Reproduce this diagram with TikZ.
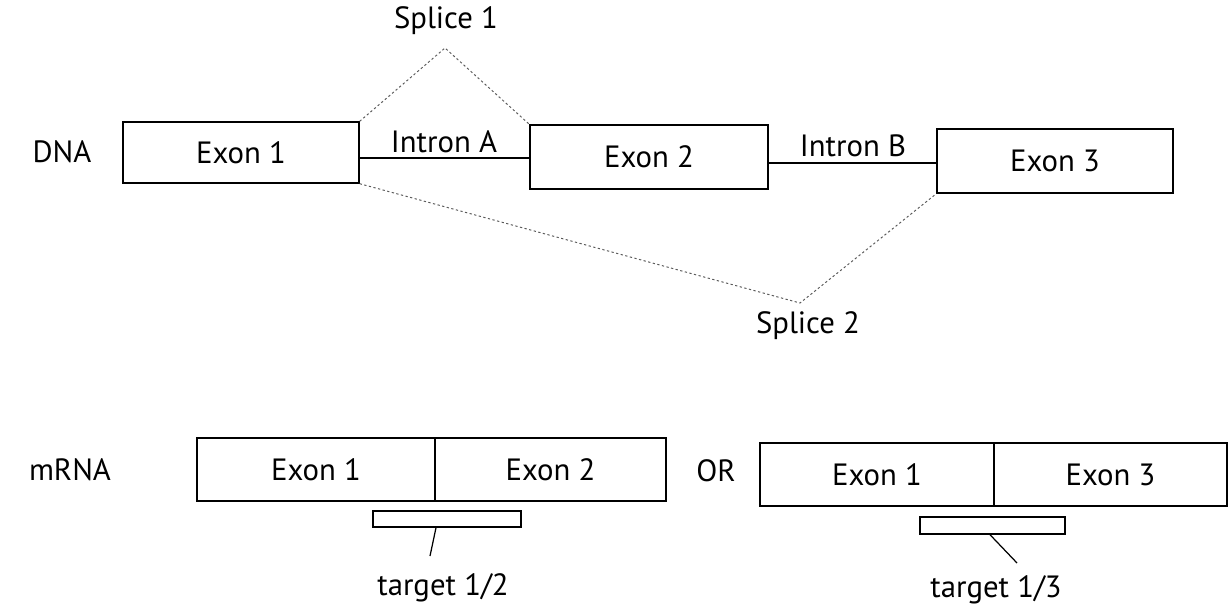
\documentclass[tikz,border=0pt]{standalone}
\usepackage{fontspec}
\setmainfont{PT Sans}
\begin{document}
\begin{tikzpicture}[x=0.02cm,y=-0.02cm,
  font=\fontsize{17.5}{20}\selectfont,
  exonbox/.style={draw=black,line width=0.8pt,rectangle,inner sep=0pt,fill=white},
  intron/.style={line width=1.2pt,black},
  splice/.style={draw=black!65,line width=0.55pt,dash pattern=on 1.3pt off 1.4pt},
  targetbar/.style={draw=black,line width=0.8pt,rectangle,inner sep=0pt},
  leader/.style={draw=black,line width=0.7pt},
  lbl/.style={inner sep=0pt,anchor=center}]
\useasboundingbox (0,0) rectangle (1229,611);

% ---- genomic DNA ----
\node[lbl] (dna) at (62,152) {DNA};
\node[exonbox,minimum width=4.72cm,minimum height=1.22cm] (e1) at (241,152.5) {Exon 1};
\node[exonbox,minimum width=4.76cm,minimum height=1.28cm] (e2) at (649,157) {Exon 2};
\node[exonbox,minimum width=4.72cm,minimum height=1.28cm] (e3) at (1055,161) {Exon 3};

\draw[intron] (e1.east |- 0,158) -- (e2.west |- 0,158);
\draw[intron] (e2.east |- 0,163) -- (e3.west |- 0,163);
\node[lbl] (ia) at (444,142) {Intron A};
\node[lbl] (ib) at (853,146) {Intron B};

% splice paths
\coordinate (s1) at (445,48);
\coordinate (s2) at (800,303);
\node[lbl] (s1l) at (446,21) {Splice 1};
\node[lbl] (s2l) at (808,326) {Splice 2};
\draw[splice] (e1.north east) -- (s1) -- (e2.north west);
\draw[splice] (e1.south east) -- (s2) -- (e3.south west);

% ---- mature mRNA ----
\node[lbl] (mrna) at (70,470) {mRNA};
\node[exonbox,minimum width=4.76cm,minimum height=1.26cm] (m1a) at (316,469.5) {Exon 1};
\node[exonbox,minimum width=4.62cm,minimum height=1.26cm] (m1b) at (550.5,469.5) {Exon 2};
\node[lbl] (or) at (716,471) {OR};
\node[exonbox,minimum width=4.68cm,minimum height=1.26cm] (m2a) at (877,474.5) {Exon 1};
\node[exonbox,minimum width=4.66cm,minimum height=1.26cm] (m2b) at (1110.5,474.5) {Exon 3};

% target regions spanning the junctions
\node[targetbar,minimum width=2.96cm,minimum height=0.32cm] (t1) at (447,519) {};
\node[targetbar,minimum width=2.90cm,minimum height=0.34cm] (t2) at (992.5,525.5) {};
\coordinate (l1) at (430,556);
\coordinate (l2) at (1017,563);
\node[lbl] (t1l) at (443,588) {target 1/2};
\node[lbl] (t2l) at (996,590) {target 1/3};
\draw[leader] (t1.south -| 436,0) -- (l1);
\draw[leader] (t2.south -| 990,0) -- (l2);
\end{tikzpicture}
\end{document}
